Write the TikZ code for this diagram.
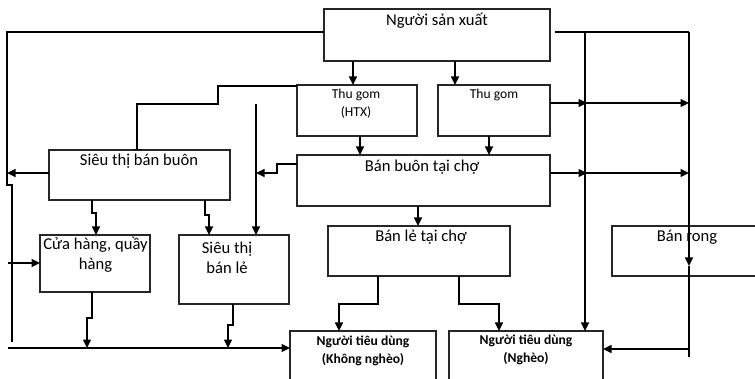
\documentclass[tikz,border=0pt]{standalone}
\usepackage{fontspec}
\setmainfont{Carlito}
\usetikzlibrary{arrows.meta}
\begin{document}
\begin{tikzpicture}[x=1pt,y=-1pt,
  box/.style={draw=black!85, line width=1.1pt, inner sep=0pt, outer sep=0pt, anchor=north west},
  lbl/.style={font=\fontsize{16.6}{20}\selectfont, align=center, inner sep=0pt},
  slbl/.style={font=\fontsize{13.6}{18}\selectfont, align=center, inner sep=0pt},
  blbl/.style={font=\fontsize{13.6}{18}\selectfont\bfseries, align=center, inner sep=0pt},
  ln/.style={line width=1.4pt},
  arr/.style={ln, -{Triangle[length=8.5pt,width=8pt]}},
  tee/.style={ln, -{Bar[width=7pt,line width=1.4pt]}}]
\useasboundingbox (0,0) rectangle (755,379);
\clip (0,0) rectangle (755,379);
% boxes
\node[box, minimum width=226pt, minimum height=52pt] (nsx) at (324,9) {};
\node[box, minimum width=120pt, minimum height=51pt] (tgh) at (297,85) {};
\node[box, minimum width=112pt, minimum height=51pt] (tg) at (438,85) {};
\node[box, minimum width=253pt, minimum height=51pt] (bbc) at (297,155) {};
\node[box, minimum width=181pt, minimum height=50pt] (stbb) at (49,150) {};
\node[box, minimum width=110pt, minimum height=57pt] (ch) at (40,235) {};
\node[box, minimum width=110pt, minimum height=69pt] (stbl) at (179,235) {};
\node[box, minimum width=182pt, minimum height=50pt] (blc) at (328,226) {};
\node[box, minimum width=160pt, minimum height=50pt] (br) at (612,226) {};
\node[box, minimum width=146pt, minimum height=60pt] (kn) at (290,331) {};
\node[box, minimum width=154pt, minimum height=60pt] (ng) at (449,331) {};
% texts
\node[lbl] (tnsx) at (437,21) {Người sản xuất};
\node[slbl] (ttgh) at (356,104) {Thu gom\\(HTX)};
\node[slbl] (ttg) at (494,95) {Thu gom};
\node[lbl] (tbbc) at (422,167) {Bán buôn tại chợ};
\node[lbl] (tstbb) at (139,161) {Siêu thị bán buôn};
\node[lbl] (tch) at (95.5,255) {Cửa hàng, quầy\\hàng};
\node[lbl] (tstbl) at (227,258) {Siêu thị\\bán lẻ};
\node[lbl] (tblc) at (421,237) {Bán lẻ tại chợ};
\node[lbl] (tbr) at (687,237) {Bán rong};
\node[blbl] (tkn) at (363,351) {Người tiêu dùng\\(Không nghèo)};
\node[blbl] (tng) at (526,350) {Người tiêu dùng\\(Nghèo)};
% bus coordinates
\coordinate (vtop) at (256,104);
\coordinate (bl) at (8,348);
\coordinate (cl) at (8,263);
\coordinate (rtop) at (555,32);
\coordinate (rc) at (689,32);
\coordinate (rm) at (585,32);
\coordinate (rbot) at (689,357);
% vertical arrows
\draw[arr] (nsx.south -| 353,0) -- (tgh.north -| 353,0);
\draw[arr] (nsx.south -| 455,0) -- (tg.north -| 455,0);
\draw[arr] (tgh.south -| 360,0) -- (bbc.north -| 360,0);
\draw[arr] (tg.south -| 489,0) -- (bbc.north -| 489,0);
\draw[arr] (bbc.south -| 418,0) -- (blc.north -| 418,0);
% HTX -> sieu thi ban buon
\draw[tee] (tgh.west |- 0,86) -- (218,86) -- (218,104) -- (137,104) -- (stbb.north -| 137,0);
% ban buon tai cho -> left bus
\draw[arr] (bbc.west |- 0,164) -- (277,164) -- (277,173) -- (vtop |- 0,173);
\draw[arr] (vtop) -- (stbl.north -| vtop);
% sieu thi ban buon -> below
\draw[arr] (stbb.south -| 92,0) -- (92,213) -- (96,213) -- (ch.north -| 96,0);
\draw[arr] (stbb.south -| 205,0) -- (205,215) -- (209,215) -- (stbl.north -| 209,0);
% ban le tai cho -> consumers
\draw[arr] (blc.south -| 378,0) -- (378,304) -- (339,304) -- (kn.north -| 339,0);
\draw[arr] (blc.south -| 459,0) -- (459,304) -- (499,304) -- (ng.north -| 499,0);
% to bottom line
\draw[arr] (ch.south -| 92,0) -- (92,318) -- (87,318) -- (bl -| 87,0);
\draw[arr] (stbl.south -| 233,0) -- (233,325) -- (228,325) -- (bl -| 228,0);
\draw[arr] (bl) -- (kn.west |- bl);
\draw[arr] (cl) -- (ch.west |- cl);
% left bus
\draw[ln] (nsx.west |- rtop) -- (7,32) -- (7,185) -- (12,185) -- (12,342);
\draw[arr] (stbb.west |- 0,173) -- (7,173);
% right bus
\draw[ln] (rtop) -- (rc);
\draw[arr] (rc) -- (689,266);
\draw[ln] (689,266) -- (rbot);
\draw[arr] (689,349) -- (ng.east |- 0,349);
\draw[arr] (rm) -- (ng.north -| rm);
\draw[arr] (tg.east |- 0,103) -- (587,103);
\draw[arr] (585,103) -- (689,103);
\draw[arr] (bbc.east |- 0,173) -- (587,173);
\draw[arr] (585,173) -- (689,173);
\end{tikzpicture}
\end{document}
